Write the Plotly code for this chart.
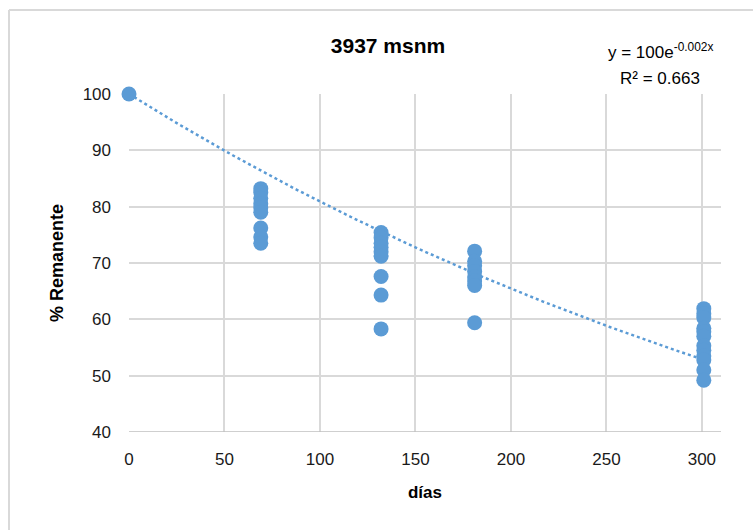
import numpy as np
import plotly.graph_objects as go

# Data
dias = [0,
        69, 69, 69, 69, 69, 69, 69, 69, 69,
        132, 132, 132, 132, 132, 132, 132, 132, 132,
        181, 181, 181, 181, 181, 181, 181, 181,
        301, 301, 301, 301, 301, 301, 301, 301, 301, 301, 301, 301]
remanente = [100,
             83.2, 82.5, 81.5, 80.5, 79.8, 79.0, 76.2, 74.6, 73.5,
             75.4, 74.5, 73.5, 72.8, 72.0, 71.2, 67.6, 64.3, 58.3,
             72.1, 70.3, 69.5, 68.5, 67.5, 66.8, 66.0, 59.4,
             61.9, 61.0, 60.3, 58.4, 57.8, 57.0, 55.3, 54.5, 53.5, 52.8, 51.0, 49.2]

x_ticks = [0, 50, 100, 150, 200, 250, 300]
y_ticks = [40, 50, 60, 70, 80, 90, 100]

trend_a = 100.0
trend_b = -0.00212
trend_x = np.linspace(0, 300, 200)
trend_y = trend_a * np.exp(trend_b * trend_x)

blue = "#5B9BD5"
font = "Liberation Sans"
tick_color = "#1A1A1A"

fig = go.Figure()
fig.add_trace(go.Scatter(x=trend_x, y=trend_y, mode="lines",
                         line=dict(color=blue, width=2.5, dash="dot"),
                         hoverinfo="skip", showlegend=False))
fig.add_trace(go.Scatter(x=dias, y=remanente, mode="markers",
                         marker=dict(color=blue, size=15, line=dict(width=0)),
                         cliponaxis=False, showlegend=False))

fig.update_layout(
    width=753, height=530,
    margin=dict(l=129, r=32, t=94, b=98),
    paper_bgcolor="white", plot_bgcolor="white",
    font=dict(family=font, color=tick_color, size=17),
    title=dict(text="<b>3937 msnm</b>", x=388 / 753, xanchor="center",
               y=1 - 46 / 530, yanchor="middle",
               font=dict(size=21, color="#000000", family=font)),
    xaxis=dict(range=[0, 310], tickvals=x_ticks,
               showgrid=True, gridcolor="#D9D9D9", gridwidth=1.5,
               zeroline=False, showline=False, ticks="",
               ticklabelstandoff=15,
               tickfont=dict(size=17, color=tick_color),
               title=dict(text="<b>días</b>", font=dict(size=17, color="#000000"),
                          standoff=18)),
    yaxis=dict(range=[40, 100], tickvals=y_ticks,
               showgrid=True, gridcolor="#D9D9D9", gridwidth=1.5,
               zeroline=False, showline=False, ticks="",
               ticklabelstandoff=17,
               tickfont=dict(size=17, color=tick_color),
               title=dict(text="<b>% Remanente</b>", font=dict(size=18, color="#000000"),
                          standoff=14)),
    shapes=[
        dict(type="line", xref="paper", yref="y", x0=0, x1=1, y0=40, y1=40,
             line=dict(color="#BFBFBF", width=1.5)),
        # outer chart frame: top and left edges (others run off the picture)
        dict(type="line", xref="paper", yref="paper",
             x0=-120 / 592, x1=(753 - 129) / 592, y0=1 + 84 / 338, y1=1 + 84 / 338,
             line=dict(color="#D9D9D9", width=2), layer="below"),
        dict(type="line", xref="paper", yref="paper",
             x0=-120 / 592, x1=-120 / 592, y0=1 + 84 / 338, y1=-98 / 338,
             line=dict(color="#D9D9D9", width=2), layer="below"),
    ],
    annotations=[
        dict(text="y = 100e<sup>-0.002x</sup>", xref="paper", yref="paper",
             x=(660 - 129) / 592, y=1 + (94 - 51) / 338, xanchor="center", yanchor="middle",
             showarrow=False, font=dict(size=17, color="#000000", family=font)),
        dict(text="R² = 0.663", xref="paper", yref="paper",
             x=(660 - 129) / 592, y=1 + (94 - 78) / 338, xanchor="center", yanchor="middle",
             showarrow=False, font=dict(size=17, color="#000000", family=font)),
    ],
)

fig.write_html("out.html")
